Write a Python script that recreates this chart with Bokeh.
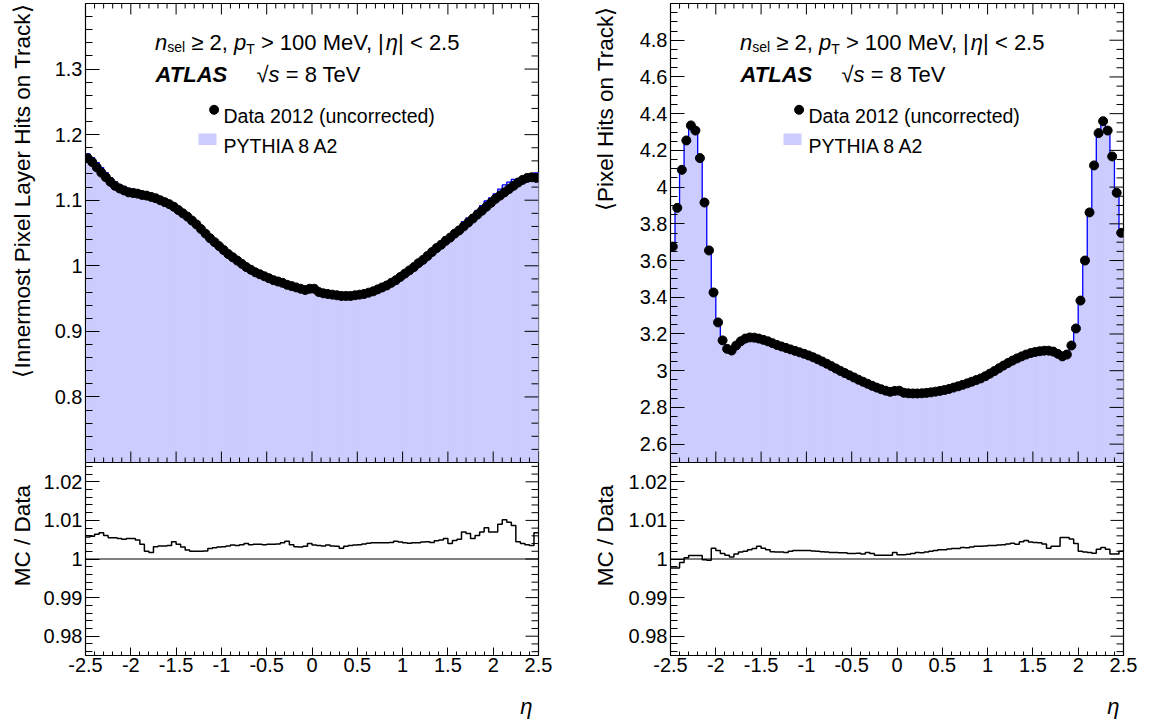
import math
import numpy as np
from bokeh.plotting import figure
from bokeh.models import Range1d, FixedTicker, Label, Span
from bokeh.layouts import row, column
from bokeh.embed import file_html
from bokeh.resources import INLINE

# ---------------- data ----------------
ETA_EDGES = np.linspace(-2.5, 2.5, 101)
ETA_CENTERS = 0.5 * (ETA_EDGES[:-1] + ETA_EDGES[1:])

innermost_data = [
    1.164, 1.158, 1.150, 1.142, 1.135, 1.128, 1.122, 1.118, 1.115, 1.112,
    1.111, 1.110, 1.108, 1.107, 1.105, 1.103, 1.100, 1.097, 1.094, 1.090,
    1.085, 1.080, 1.075, 1.069, 1.063, 1.056, 1.049, 1.042, 1.036, 1.030,
    1.024, 1.018, 1.013, 1.008, 1.003, 0.998, 0.994, 0.990, 0.987, 0.984,
    0.981, 0.978, 0.976, 0.974, 0.971, 0.969, 0.967, 0.965, 0.963, 0.965,
    0.965, 0.960, 0.958, 0.957, 0.956, 0.955, 0.954, 0.954, 0.954, 0.955,
    0.956, 0.957, 0.959, 0.961, 0.964, 0.967, 0.970, 0.974, 0.978, 0.983,
    0.988, 0.993, 0.998, 1.004, 1.009, 1.015, 1.021, 1.027, 1.032, 1.038,
    1.043, 1.049, 1.054, 1.060, 1.066, 1.072, 1.078, 1.084, 1.090, 1.096,
    1.102, 1.107, 1.112, 1.117, 1.122, 1.127, 1.131, 1.134, 1.135, 1.134]

innermost_ratio = [
    1.0057, 1.0059, 1.0064, 1.0068, 1.0061, 1.0055, 1.0055, 1.0053, 1.0051, 1.0053,
    1.0053, 1.0049, 1.0038, 1.0020, 1.0017, 1.0032, 1.0034, 1.0034, 1.0035, 1.0045,
    1.0038, 1.0031, 1.0023, 1.0020, 1.0020, 1.0020, 1.0021, 1.0027, 1.0029, 1.0031,
    1.0032, 1.0034, 1.0036, 1.0035, 1.0037, 1.0040, 1.0037, 1.0038, 1.0038, 1.0037,
    1.0038, 1.0038, 1.0039, 1.0042, 1.0046, 1.0037, 1.0032, 1.0031, 1.0033, 1.0040,
    1.0036, 1.0035, 1.0034, 1.0036, 1.0034, 1.0033, 1.0028, 1.0033, 1.0035, 1.0036,
    1.0037, 1.0039, 1.0041, 1.0042, 1.0042, 1.0042, 1.0042, 1.0043, 1.0046, 1.0044,
    1.0042, 1.0041, 1.0042, 1.0042, 1.0044, 1.0045, 1.0043, 1.0047, 1.0049, 1.0053,
    1.0040, 1.0048, 1.0051, 1.0070, 1.0066, 1.0053, 1.0061, 1.0070, 1.0081, 1.0070,
    1.0070, 1.0090, 1.0102, 1.0095, 1.0087, 1.0045, 1.0040, 1.0037, 1.0035, 1.0068]

pixel_data = [
    3.676, 3.887, 4.094, 4.254, 4.336, 4.308, 4.158, 3.916, 3.655, 3.426,
    3.263, 3.165, 3.119, 3.110, 3.137, 3.160, 3.175, 3.181, 3.180, 3.175,
    3.168, 3.160, 3.150, 3.140, 3.132, 3.124, 3.116, 3.108, 3.100, 3.092,
    3.083, 3.073, 3.062, 3.050, 3.038, 3.025, 3.012, 2.999, 2.987, 2.975,
    2.963, 2.951, 2.940, 2.929, 2.918, 2.908, 2.899, 2.891, 2.885, 2.890,
    2.891, 2.880, 2.877, 2.876, 2.876, 2.877, 2.879, 2.882, 2.886, 2.890,
    2.895, 2.901, 2.908, 2.915, 2.923, 2.931, 2.940, 2.949, 2.958, 2.970,
    2.984, 2.998, 3.013, 3.028, 3.042, 3.055, 3.067, 3.078, 3.088, 3.096,
    3.102, 3.106, 3.109, 3.109, 3.104, 3.092, 3.078, 3.088, 3.137, 3.230,
    3.382, 3.600, 3.862, 4.118, 4.294, 4.359, 4.308, 4.167, 3.969, 3.751]

pixel_ratio = [
    0.9977, 0.9977, 0.9991, 1.0003, 1.0009, 1.0009, 1.0009, 0.9998, 0.9997, 1.0028,
    1.0022, 1.0014, 1.0010, 1.0005, 1.0013, 1.0018, 1.0020, 1.0024, 1.0027, 1.0033,
    1.0028, 1.0024, 1.0019, 1.0018, 1.0018, 1.0017, 1.0020, 1.0022, 1.0022, 1.0022,
    1.0022, 1.0021, 1.0020, 1.0019, 1.0018, 1.0017, 1.0017, 1.0016, 1.0016, 1.0014,
    1.0014, 1.0015, 1.0013, 1.0017, 1.0014, 1.0010, 1.0010, 1.0010, 1.0010, 1.0017,
    1.0011, 1.0011, 1.0012, 1.0014, 1.0017, 1.0016, 1.0018, 1.0020, 1.0022, 1.0024,
    1.0024, 1.0026, 1.0027, 1.0027, 1.0030, 1.0029, 1.0031, 1.0033, 1.0033, 1.0034,
    1.0035, 1.0035, 1.0036, 1.0037, 1.0039, 1.0041, 1.0038, 1.0045, 1.0048, 1.0044,
    1.0043, 1.0042, 1.0039, 1.0028, 1.0033, 1.0033, 1.0056, 1.0056, 1.0052, 1.0040,
    1.0020, 1.0018, 1.0017, 1.0015, 1.0025, 1.0030, 1.0025, 1.0013, 1.0013, 1.0020]

X_TICKS = [-2.5, -2.0, -1.5, -1.0, -0.5, 0.0, 0.5, 1.0, 1.5, 2.0, 2.5]
X_TICK_LABELS = ["-2.5", "-2", "-1.5", "-1", "-0.5", "0", "0.5", "1", "1.5", "2", "2.5"]
INNER_TICKS = [0.8, 0.9, 1.0, 1.1, 1.2, 1.3]
INNER_TICK_LABELS = ["0.8", "0.9", "1", "1.1", "1.2", "1.3"]
PIXEL_TICKS = [2.6, 2.8, 3.0, 3.2, 3.4, 3.6, 3.8, 4.0, 4.2, 4.4, 4.6, 4.8]
PIXEL_TICK_LABELS = ["2.6", "2.8", "3", "3.2", "3.4", "3.6", "3.8", "4", "4.2", "4.4", "4.6", "4.8"]
RATIO_TICKS = [0.98, 0.99, 1.0, 1.01, 1.02]
RATIO_TICK_LABELS = ["0.98", "0.99", "1", "1.01", "1.02"]


def minor_between(start, step, n, majors):
    vals = [round(start + step * i, 4) for i in range(n)]
    return [v for v in vals if all(abs(v - m) > 1e-6 for m in majors)]


X_MINOR = minor_between(-2.5, 0.1, 51, X_TICKS)
INNER_MINOR = minor_between(0.7, 0.02, 36, INNER_TICKS + [0.7, 1.4])
PIXEL_MINOR = minor_between(2.5, 0.05, 51, PIXEL_TICKS + [2.5, 5.0])
RATIO_MINOR = minor_between(0.976, 0.002, 25, RATIO_TICKS)

# ---------------- style / geometry (canvas pixels) ----------------
FONT = "Liberation Sans"
FILL = "#ccccff"
FRAME_W = 453
FRAME_TOP, MAIN_BOT, RATIO_BOT = 3, 462, 655
MAIN_H = 685          # height of the plot figures
STRIP_H = 35          # bottom strip holding the eta titles
TOTAL_W = 1150
TICK_FS = "20px"
TITLE_FS = "22.5px"

UPPER = dict(A=667, B=667, C=722, D=722, E=667, F=611, G=778, H=722, I=278, J=500, K=667,
             L=556, M=833, N=722, O=778, P=667, Q=778, R=722, S=667, T=611, U=722, V=667,
             W=944, X=667, Y=667, Z=611)
LOWER = dict(a=556, b=556, c=500, d=556, e=556, f=278, g=556, h=556, i=222, j=222, k=500,
             l=222, m=833, n=556, o=556, p=556, q=556, r=333, s=500, t=278, u=556, v=500,
             w=722, x=500, y=500, z=500)
OTHER = {' ': 278, ',': 278, '.': 278, '-': 333, '/': 278, '(': 333, ')': 333, '<': 584,
         '>': 584, '=': 584, '\u2265': 549, '|': 260, '\u221a': 549, '\u03b7': 556}
BOLD = dict(A=722, T=611, L=611, S=667)


def char_w(ch, bold):
    if bold and ch in BOLD:
        return BOLD[ch]
    if ch.isdigit():
        return 556
    return UPPER.get(ch) or LOWER.get(ch) or OTHER.get(ch, 556)


def text_w(s, size, bold=False):
    return sum(char_w(c, bold) for c in s) * size / 1000.0


def build(cfg):
    fl, fx0, width = cfg["frame_left"], cfg["fig_left"], cfg["width"]
    lo, hi = cfg["lo"], cfg["hi"]
    dx = 5.0 / FRAME_W
    dym = (hi - lo) / float(MAIN_BOT - FRAME_TOP)
    dyr = 0.05 / float(RATIO_BOT - MAIN_BOT)

    def X(px):
        return -2.5 + (px - fl) * dx

    def YM(py):
        return hi - (py - FRAME_TOP) * dym

    def YR(py):
        return 1.025 - (py - MAIN_BOT) * dyr

    p = figure(width=width, height=MAIN_H, x_range=Range1d(-2.5, 2.5),
               y_range=Range1d(YM(RATIO_BOT), YM(FRAME_TOP)), output_backend="svg",
               toolbar_location=None, title=None,
               min_border_left=fl - fx0, min_border_right=width - (fl - fx0) - FRAME_W,
               min_border_top=FRAME_TOP, min_border_bottom=MAIN_H - RATIO_BOT)
    p.extra_y_ranges = {"ratio": Range1d(0.975, YR(FRAME_TOP))}
    p.grid.visible = False
    p.background_fill_color = "white"
    p.border_fill_color = "white"
    p.outline_line_color = "black"
    p.outline_line_width = 1.2

    # y axis (main ticks + ratio ticks expressed in main units)
    conv = [YM(MAIN_BOT + (1.025 - r) / dyr) for r in RATIO_TICKS]
    conv_minor = [YM(MAIN_BOT + (1.025 - r) / dyr) for r in RATIO_MINOR]
    main_ticks, main_labels, main_minor = cfg["ticks"], cfg["labels"], cfg["minor"]
    ya = p.yaxis[0]
    ya.ticker = FixedTicker(ticks=list(main_ticks) + conv, minor_ticks=list(main_minor) + conv_minor)
    ov = {t: l for t, l in zip(main_ticks, main_labels)}
    ov.update({c: l for c, l in zip(conv, RATIO_TICK_LABELS)})
    ya.major_label_overrides = ov
    ya.major_tick_in = 14
    ya.major_tick_out = 0
    ya.minor_tick_in = 7
    ya.minor_tick_out = 0
    ya.major_label_standoff = 3
    ya.major_label_text_font = FONT
    ya.major_label_text_font_size = TICK_FS
    ya.major_label_text_color = "black"
    ya.axis_line_color = "black"

    xa = p.xaxis[0]
    xa.ticker = FixedTicker(ticks=X_TICKS, minor_ticks=X_MINOR)
    xa.major_label_overrides = {t: l for t, l in zip(X_TICKS, X_TICK_LABELS)}
    xa.major_tick_in = 8
    xa.major_tick_out = 0
    xa.minor_tick_in = 4
    xa.minor_tick_out = 0
    xa.major_label_standoff = 2
    xa.major_label_text_font = FONT
    xa.major_label_text_font_size = TICK_FS
    xa.major_label_text_color = "black"
    xa.axis_line_color = "black"

    # MC histogram and data points
    data = np.array(cfg["data"])
    ratio = np.array(cfg["ratio"])
    mc = data * ratio
    p.quad(left=ETA_EDGES[:-1], right=ETA_EDGES[1:], bottom=lo, top=mc,
           fill_color=FILL, line_color=FILL, line_width=1)
    p.step(x=ETA_EDGES, y=np.append(mc, mc[-1]), mode="after",
           line_color="#0000ff", line_width=1.3)
    p.scatter(x=ETA_CENTERS, y=data, size=9, color="black")

    # ratio panel
    p.add_layout(Span(location=lo, dimension="width", line_color="black", line_width=1.2))
    p.add_layout(Span(location=1.0, dimension="width", y_range_name="ratio",
                      line_color="black", line_width=1))
    p.step(x=ETA_EDGES, y=np.append(ratio, ratio[-1]), mode="after",
           line_color="black", line_width=1.5, y_range_name="ratio")

    # extra ticks: top of main, bottom of main (panel boundary), right side
    top = YM(FRAME_TOP)
    for ticks, ln in ((X_TICKS, 11), (X_MINOR, 5)):
        n = len(ticks)
        p.segment(x0=ticks, y0=[top] * n, x1=ticks, y1=[top - ln * dym] * n,
                  line_color="black", line_width=1)
        p.segment(x0=ticks, y0=[lo] * n, x1=ticks, y1=[lo + ln * dym] * n,
                  line_color="black", line_width=1)
    for ticks, ln in ((main_ticks, 14), (main_minor, 7)):
        n = len(ticks)
        p.segment(x0=[2.5] * n, y0=ticks, x1=[2.5 - ln * dx] * n, y1=ticks,
                  line_color="black", line_width=1)
    for ticks, ln in ((RATIO_TICKS, 13), (RATIO_MINOR, 7)):
        n = len(ticks)
        p.segment(x0=[2.5] * n, y0=ticks, x1=[2.5 - ln * dx] * n, y1=ticks,
                  line_color="black", line_width=1, y_range_name="ratio")

    # texts inside the frame
    def pieces(x_px, base_py, items):
        for txt, size, style, dy in items:
            lead = len(txt) - len(txt.lstrip(" "))
            trail = len(txt) - len(txt.rstrip(" "))
            core = txt.strip(" ")
            bold = "bold" in style
            x_px += lead * text_w(" ", size)
            p.add_layout(Label(x=X(x_px), y=YM(base_py + dy), text=core, text_font=FONT,
                               text_font_size=f"{size}px", text_font_style=style,
                               text_baseline="alphabetic", text_align="left",
                               text_color="black"))
            x_px += text_w(core, size, bold) + trail * text_w(" ", size)
        return x_px

    S = 22
    pieces(fl + 69.6, 41.5, [("n", S, "italic", 0), ("sel", 14, "normal", 5),
                             (" \u2265 2, ", S, "normal", 0), ("p", S, "italic", 0),
                             ("T", 14, "normal", 7), (" > 100 MeV, |", S, "normal", 0),
                             ("\u03b7", S, "italic", 0), ("| < 2.5", S, "normal", 0)])
    pieces(fl + 70, 74, [("ATLAS", S, "bold italic", 0)])
    pieces(fl + 171, 74, [("\u221a", S, "normal", 0), ("s", S, "italic", 0),
                          (" = 8 TeV", S, "normal", 0)])

    # legend
    p.scatter(x=[X(fl + 128.6)], y=[YM(109.3)], size=9, color="black")
    pieces(fl + 138, 115, [("Data 2012 (uncorrected)", 19.5, "normal", 0)])
    p.quad(left=[X(fl + 113)], right=[X(fl + 131)], top=[YM(133)], bottom=[YM(144.5)],
           fill_color=FILL, line_color=None)
    pieces(fl + 138, 145.7, [("PYTHIA 8 A2", 19.5, "normal", 0)])
    return p


def strip(x0, x1, y0, y1):
    s = figure(width=x1 - x0, height=y1 - y0, x_range=Range1d(x0, x1),
               y_range=Range1d(y1, y0), output_backend="svg", toolbar_location=None,
               title=None, min_border=0, x_axis_location=None, y_axis_location=None)
    s.grid.visible = False
    s.outline_line_color = None
    s.background_fill_color = "white"
    s.border_fill_color = "white"
    return s


def ytitles(s, xc, main_title, top_y):
    s.add_layout(Label(x=xc, y=top_y, text=main_title, angle=math.pi / 2,
                       text_align="right", text_baseline="middle", text_font=FONT,
                       text_font_size=TITLE_FS, text_color="black"))
    s.add_layout(Label(x=xc, y=559, text="MC / Data", angle=math.pi / 2,
                       text_align="center", text_baseline="middle", text_font=FONT,
                       text_font_size=TITLE_FS, text_color="black"))


# left block
tL = strip(0, 36, 0, MAIN_H)
ytitles(tL, 22, "\u27e8Innermost Pixel Layer Hits on Track\u27e9", 0.5)
pL = build(dict(frame_left=85, fig_left=36, width=540, lo=0.7, hi=1.4,
                ticks=INNER_TICKS, labels=INNER_TICK_LABELS, minor=INNER_MINOR,
                data=innermost_data, ratio=innermost_ratio))
# right block
tR = strip(576, 618, 0, MAIN_H)
ytitles(tR, 605, "\u27e8Pixel Hits on Track\u27e9", 3)
pR = build(dict(frame_left=670, fig_left=618, width=TOTAL_W - 618, lo=2.5, hi=5.0,
                ticks=PIXEL_TICKS, labels=PIXEL_TICK_LABELS, minor=PIXEL_MINOR,
                data=pixel_data, ratio=pixel_ratio))
# bottom strip with the x-axis titles
bottom = strip(0, TOTAL_W, MAIN_H, MAIN_H + STRIP_H)
for xr in (532, 1119):
    bottom.add_layout(Label(x=xr, y=706, text="\u03b7", text_align="right",
                            text_baseline="alphabetic", text_font=FONT,
                            text_font_style="italic", text_font_size="22px",
                            text_color="black"))

layout = column(row(tL, pL, tR, pR), bottom)
open("out.html", "w").write(file_html(layout, INLINE))
